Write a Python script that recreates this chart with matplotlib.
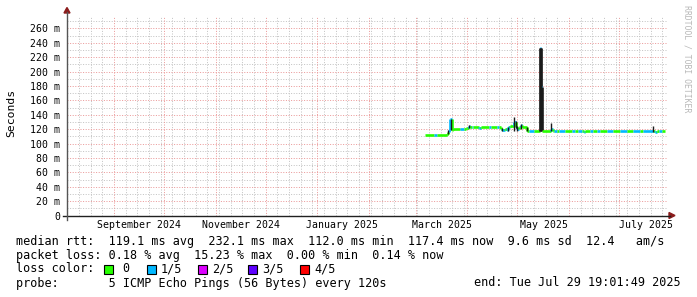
import datetime as dt
import matplotlib
matplotlib.use('Agg')
import matplotlib.pyplot as plt
import matplotlib.dates as mdates
from matplotlib.collections import LineCollection
from matplotlib.patches import Polygon, Rectangle
from matplotlib.lines import Line2D

# median rtt (ms), step start times, loss level (pings lost of 5)
med_time = ["2025-03-06 12:00", "2025-03-12 00:00", "2025-03-13 12:00", "2025-03-19 12:00",
            "2025-03-20 12:00", "2025-03-21 06:00", "2025-03-21 18:00", "2025-03-22 12:00",
            "2025-03-23 12:00", "2025-03-27 12:00", "2025-03-30 00:00", "2025-03-31 00:00",
            "2025-04-01 00:00", "2025-04-01 18:00", "2025-04-02 12:00", "2025-04-03 12:00",
            "2025-04-04 12:00", "2025-04-08 00:00", "2025-04-09 00:00", "2025-04-14 00:00",
            "2025-04-15 00:00", "2025-04-19 00:00", "2025-04-20 00:00", "2025-04-21 00:00",
            "2025-04-22 00:00", "2025-04-23 12:00", "2025-04-24 12:00", "2025-04-25 12:00",
            "2025-04-26 12:00", "2025-04-29 06:00", "2025-04-30 06:00", "2025-05-01 00:00",
            "2025-05-01 18:00", "2025-05-03 00:00", "2025-05-04 00:00", "2025-05-07 00:00",
            "2025-05-08 00:00", "2025-05-11 00:00", "2025-05-14 12:00", "2025-05-15 06:00",
            "2025-05-16 00:00", "2025-05-21 06:00", "2025-05-22 06:00", "2025-05-23 00:00",
            "2025-05-24 12:00", "2025-05-26 00:00", "2025-05-29 12:00", "2025-06-02 12:00",
            "2025-06-04 12:00", "2025-06-06 12:00", "2025-06-08 12:00", "2025-06-10 00:00",
            "2025-06-10 18:00", "2025-06-13 12:00", "2025-06-15 12:00", "2025-06-17 12:00",
            "2025-06-19 12:00", "2025-06-23 12:00", "2025-06-27 12:00", "2025-07-01 12:00",
            "2025-07-05 12:00", "2025-07-09 12:00", "2025-07-13 12:00", "2025-07-15 12:00",
            "2025-07-21 12:00", "2025-07-22 12:00", "2025-07-23 12:00", "2025-07-25 00:00",
            "2025-07-26 12:00", "2025-07-28 18:00"]
med_ms = [112.3, 112.2, 112.3, 113.8, 116.5, 118.6, 133.6, 118.8,
          119.7, 119.6, 120.2, 121.2, 122.2, 124.6, 123.0, 122.9,
          122.9, 121.4, 122.9, 123.3, 123.0, 123.4, 122.6, 120.3,
          119.3, 120.1, 118.4, 122.5, 124.3, 130.3, 123.4, 119.5,
          123.4, 125.5, 123.4, 117.8, 117.6, 117.8, 232.1, 179.0,
          117.4, 120.4, 117.4, 117.3, 117.5, 117.3, 117.6, 117.2,
          117.5, 117.3, 117.6, 115.6, 117.4, 117.2, 117.5, 117.3,
          117.6, 117.2, 117.5, 117.3, 117.6, 117.2, 117.5, 117.3,
          117.5, 116.4, 117.4, 117.3, 117.5, 117.4]
med_loss = [0, 1, 0, 0, 0, 1, 1, 0,
            0, 1, 0, 0, 0, 1, 0, 1,
            0, 1, 0, 1, 0, 1, 0, 0,
            1, 0, 1, 1, 0, 1, 0, 1,
            0, 1, 0, 0, 1, 0, 1, 1,
            0, 1, 0, 1, 0, 1, 0, 1,
            0, 1, 0, 1, 0, 1, 0, 1,
            0, 1, 0, 1, 0, 1, 0, 1,
            0, 1, 0, 1, 0, 0]

# smoke (spread of the pings) where it is visible
smoke_time = ["2025-03-20 06:00", "2025-03-22 00:00", "2025-04-01 18:00", "2025-04-22 00:00",
              "2025-04-25 12:00", "2025-04-29 06:00", "2025-04-30 00:00", "2025-05-01 00:00",
              "2025-05-03 00:00", "2025-05-07 00:00", "2025-05-14 12:00", "2025-05-15 06:00",
              "2025-05-21 06:00", "2025-07-21 12:00"]
smoke_lo = [113.0, 118.5, 121.0, 117.5, 117.5, 118.0, 121.0, 118.0, 119.5, 117.0, 117.0, 117.0, 117.0, 116.5]
smoke_hi = [118.5, 134.5, 126.0, 121.5, 123.0, 136.5, 131.0, 124.0, 127.5, 123.5, 232.5, 232.5, 128.0, 124.5]

loss_colors = ['#26ff00', '#00b8ff', '#dd00ff', '#5e00ff', '#ff0000']
loss_labels = ['0', '1/5', '2/5', '3/5', '4/5']

month_labels = ['September 2024', 'November 2024', 'January 2025', 'March 2025', 'May 2025', 'July 2025']
month_label_at = ['2024-09-16', '2024-11-16', '2025-01-16', '2025-03-17', '2025-05-17', '2025-07-17']

y_major = list(range(0, 261, 20))
y_minor = list(range(10, 271, 20))

end = dt.datetime(2025, 7, 29, 19, 1, 49)
start = end - dt.timedelta(days=360)

W, H = 697, 297
def fx(px):
    return px / W
def fy(py):
    return 1 - py / H

fig = plt.figure(figsize=(W / 100, H / 100), dpi=100)
fig.patch.set_facecolor('white')
ax = fig.add_axes([fx(67), fy(215.5), 600 / W, 200 / H])
ax.set_facecolor('white')
x0, x1 = mdates.date2num(start), mdates.date2num(end)
ax.set_xlim(x0, x1)
ax.set_ylim(0, 200 / 0.72)
for s in ax.spines.values():
    s.set_visible(False)

dots = (0, (1, 1.6))
grey = '#c4c4c4'
pink = '#eb9a9a'

# weekly / monthly vertical grid
months = []
d = dt.datetime(start.year, start.month, 1)
while d <= end:
    if d > start:
        months.append(d)
    d = dt.datetime(d.year + (d.month // 12), d.month % 12 + 1, 1)
d = dt.datetime(start.year, start.month, start.day) + dt.timedelta(days=1)
while d.weekday() != 6:
    d += dt.timedelta(days=1)
while d < end:
    if d.day != 1:
        ax.axvline(mdates.date2num(d), color=grey, lw=0.72, ls=dots, zorder=1)
    d += dt.timedelta(days=7)
for y in y_minor:
    ax.axhline(y, color=grey, lw=0.72, ls=dots, zorder=1)
for m in months:
    ax.axvline(mdates.date2num(m), color=pink, lw=0.72, ls=dots, zorder=2)
for y in y_major[1:]:
    ax.axhline(y, color=pink, lw=0.72, ls=dots, zorder=2)

# median, coloured by loss; very big jumps drawn dark like the smoke
mt = [mdates.date2num(dt.datetime.fromisoformat(t)) for t in med_time]
segs, cols = [], []
for i in range(len(mt) - 1):
    segs.append([(mt[i], med_ms[i]), (mt[i + 1], med_ms[i])])
    cols.append(loss_colors[med_loss[i]])
    segs.append([(mt[i + 1], med_ms[i]), (mt[i + 1], med_ms[i + 1])])
    if abs(med_ms[i + 1] - med_ms[i]) > 40:
        cols.append('#1a1a1a')
    else:
        cols.append(loss_colors[med_loss[i + 1]])
ax.add_collection(LineCollection(segs, colors=cols, linewidths=1.9, zorder=4, capstyle='butt'))

# smoke on top of the median transitions
st = [mdates.date2num(dt.datetime.fromisoformat(t)) for t in smoke_time]
ax.vlines(st, smoke_lo, smoke_hi, color='#1a1a1a', lw=1.0, zorder=5)

# ticks
ax.set_yticks(y_major)
ax.set_yticklabels(['0' if v == 0 else '%d m' % v for v in y_major],
                   family='DejaVu Sans Mono', fontsize=7.1)
ax.set_xticks([mdates.date2num(dt.datetime.fromisoformat(t)) for t in month_label_at])
ax.set_xticklabels(month_labels, family='DejaVu Sans Mono', fontsize=7.1)
ax.tick_params(axis='y', length=0, pad=5)
ax.tick_params(axis='x', length=0, pad=3.5)

# axes and arrows
axis_col = '#202020'
arrow_col = '#8b1c1c'
fig.add_artist(Line2D([fx(63), fx(670)], [fy(215.5), fy(215.5)], color=axis_col, lw=1.0))
fig.add_artist(Line2D([fx(67), fx(67)], [fy(219.5), fy(12)], color='#555555', lw=1.0))
fig.add_artist(Polygon([(fx(669), fy(212.5)), (fx(675), fy(215.5)), (fx(669), fy(218.5))],
                       closed=True, color=arrow_col, transform=fig.transFigure))
fig.add_artist(Polygon([(fx(64), fy(13)), (fx(67), fy(7.5)), (fx(70), fy(13))],
                       closed=True, color=arrow_col, transform=fig.transFigure))

fig.text(fx(11), fy(113), 'Seconds', rotation=90, ha='center', va='center',
         family='DejaVu Sans Mono', fontsize=8.2)
fig.text(fx(687), fy(59), 'RRDTOOL / TOBI OETIKER', rotation=270, ha='center', va='center',
         family='DejaVu Sans Mono', fontsize=5.9, color='#b8b8b8')

mono = dict(family='DejaVu Sans Mono', fontsize=8.45, va='center')
fig.text(fx(16), fy(241), 'median rtt:  119.1 ms avg  232.1 ms max  112.0 ms min  117.4 ms now  9.6 ms sd  12.4   am/s', **mono)
fig.text(fx(16), fy(255), 'packet loss: 0.18 % avg  15.23 % max  0.00 % min  0.14 % now', **mono)
fig.text(fx(16), fy(268.5), 'loss color:', **mono)
box_x = [103.5, 146.5, 197.5, 248, 300]
lab_x = [122, 161, 212, 262, 314]
for c, lab, bx, lx in zip(loss_colors, loss_labels, box_x, lab_x):
    fig.add_artist(Rectangle((fx(bx), fy(273.5)), 9 / W, 9 / H, facecolor=c, edgecolor='black',
                             lw=0.8, transform=fig.transFigure))
    fig.text(fx(lx), fy(268.5), lab, **mono)
fig.text(fx(16), fy(283), 'probe:       5 ICMP Echo Pings (56 Bytes) every 120s', **mono)
fig.text(fx(681), fy(283), 'end: Tue Jul 29 19:01:49 2025', ha='right', family='DejaVu Sans Mono',
         fontsize=8.45, va='center')

fig.savefig('out.png', dpi=100, facecolor='white')
